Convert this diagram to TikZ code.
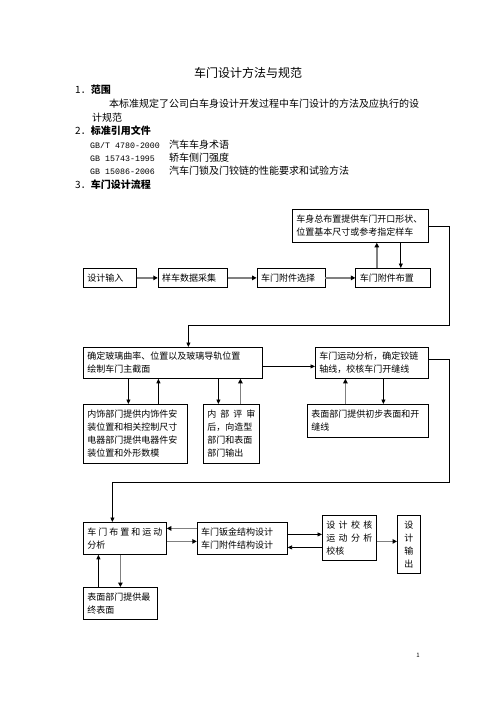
\documentclass[tikz,border=0pt]{standalone}
\usepackage{fontspec}
\setmainfont{Noto Sans CJK SC}
\setmonofont{Liberation Mono}
\usepackage{tikz}
\usetikzlibrary{arrows.meta, positioning, calc}
\usepackage{xcolor}

\begin{document}
\begin{tikzpicture}[
    x=1pt, y=-1pt,
    box/.style={rectangle, draw, line width=0.8pt, inner xsep=4pt, inner ysep=0pt, align=left, font=\fontsize{9}{13}\selectfont},
    txt/.style={inner sep=0pt, anchor=west, font=\fontsize{10}{12}\selectfont},
    arr/.style={-{Triangle[length=4.5pt, width=4pt]}, line width=0.8pt},
    garr/.style={-{Triangle[length=4.5pt, width=4.5pt, color=black]}, line width=1.8pt, draw=gray}
]
\useasboundingbox (0,0) rectangle (496,702);

% header text
\node[inner sep=0pt, font=\fontsize{12}{14}\selectfont] (title) at (248,73) {车门设计方法与规范};
\node[txt] (h1) at (75,90) {1．\textbf{范围}};
\node[txt] (p1) at (109,104) {本标准规定了公司白车身设计开发过程中车门设计的方法及应执行的设};
\node[txt] (p2) at (92,118) {计规范};
\node[txt] (h2) at (75,131) {2．\textbf{标准引用文件}};
\node[txt] (gb1) at (90,145) {\makebox[79pt][l]{\ttfamily\fontsize{8.3}{10}\selectfont GB/T 4780-2000}汽车车身术语};
\node[txt] (gb2) at (90,158) {\makebox[79pt][l]{\ttfamily\fontsize{8.3}{10}\selectfont GB 15743-1995}轿车侧门强度};
\node[txt] (gb3) at (90,171) {\makebox[79pt][l]{\ttfamily\fontsize{8.3}{10}\selectfont GB 15086-2006}汽车门锁及门铰链的性能要求和试验方法};
\node[txt] (h3) at (75,185) {3．\textbf{车门设计流程}};

% first row
\node[box, anchor=north west, text width=128pt, minimum height=33pt] (top) at (292,209) {车身总布置提供车门开口形状、\\位置基本尺寸或参考指定样车};
\node[box, anchor=north west, text width=45pt, minimum height=19pt] (input) at (83,268) {设计输入};
\node[box, right=21pt of input, text width=61pt, minimum height=19pt] (sample) {样车数据采集};
\node[box, right=29pt of sample, text width=60pt, minimum height=19pt] (select) {车门附件选择};
\node[box, right=30pt of select, text width=67pt, minimum height=19pt] (layout) {车门附件布置};

% second row
\node[box, anchor=north west, text width=171pt, minimum height=31pt] (glass) at (83,347) {确定玻璃曲率、位置以及玻璃导轨位置\\绘制车门主截面};
\node[box, anchor=north west, text width=105pt, minimum height=31pt] (motion) at (315,347) {车门运动分析，确定铰链\\轴线，校核车门开缝线};
\node[box, anchor=north west, text width=96pt, minimum height=59pt] (trim) at (83,404) {内饰部门提供内饰件安\\装位置和相关控制尺寸\\电器部门提供电器件安\\装位置和外形数模};
\node[box, anchor=north west, text width=48pt, minimum height=59pt] (review) at (203,404) {内\hfill 部\hfill 评\hfill 审\\后，向造型\\部门和表面\\部门输出};
\node[box, anchor=north west, text width=113pt, minimum height=33pt] (surface) at (307,404) {表面部门提供初步表面和开\\缝线};

% third row
\node[box, anchor=north west, text width=75pt, minimum height=32pt] (arrange) at (83,522) {车\hfill 门\hfill 布\hfill 置\hfill 和\hfill 运\hfill 动\\分析};
\node[box, right=30pt of arrange, text width=82pt, minimum height=32pt] (sheet) {车门钣金结构设计\\车门附件结构设计};
\node[box, anchor=north west, text width=46pt, minimum height=45pt] (check) at (322,515) {设\hfill 计\hfill 校\hfill 核\\运\hfill 动\hfill 分\hfill 析\\校核};
\node[box, anchor=north west, text width=15pt, minimum height=58pt, align=center] (output) at (397,515) {设\\计\\输\\出};
\node[box, anchor=north west, text width=66pt, minimum height=32pt] (final) at (83,587) {表面部门提供最\\终表面};

\node[inner sep=0pt, font=\fontsize{6}{7}\selectfont] (page) at (418,655) {1};

% connectors, first row
\draw[garr] (input) -- (sample);
\draw[garr] (sample) -- (select);
\draw[garr] (select) -- (layout);
\draw[garr] ([xshift=-16.5pt]layout.north) -- ([xshift=-16.5pt]layout.north |- top.south);
\draw[arr] ([xshift=7.5pt]layout.north |- top.south) -- ([xshift=7.5pt]layout.north);
\coordinate (r1) at (449,325);
\draw[arr] (top.east) -| (r1) -| ([xshift=15.5pt]glass.north);

% connectors, second row
\draw[arr] ([yshift=-3.5pt]glass.east) -- ([yshift=-3.5pt]glass.east -| motion.west);
\draw[arr] ([xshift=-7pt]trim.north |- glass.south) -- ([xshift=-7pt]trim.north);
\draw[arr] ([xshift=23pt]trim.north) -- ([xshift=23pt]trim.north |- glass.south);
\draw[arr] ([xshift=-13pt]review.north |- glass.south) -- ([xshift=-13pt]review.north);
\draw[garr] ([xshift=9pt]review.north) -- ([xshift=9pt]review.north |- glass.south);
\draw[garr] ([xshift=-22.5pt]surface.north) -- ([xshift=-22.5pt]surface.north |- motion.south);
\draw[arr] ([xshift=15.5pt]surface.north |- motion.south) -- ([xshift=15.5pt]surface.north);
\coordinate (r2) at (449,482);
\draw[arr] ([yshift=3.5pt]motion.east) -| (r2) -| ([xshift=-12.5pt]arrange.north);

% connectors, third row
\draw[garr] ([yshift=10pt]sheet.west) -- ([yshift=10pt]sheet.west -| arrange.east);
\draw[garr] ([yshift=-3pt]arrange.east) -- ([yshift=-3pt]arrange.east -| sheet.west);
\draw[arr] ([yshift=3.5pt]check.west -| sheet.east) -- ([yshift=3.5pt]check.west);
\draw[arr] ([yshift=-9.5pt]check.west) -- ([yshift=-9.5pt]check.west -| sheet.east);
\draw[garr] ([yshift=-3.5pt]check.east) -- ([yshift=-3.5pt]check.east -| output.west);
\draw[arr] ([xshift=-22pt]final.north) -- ([xshift=-22pt]final.north |- arrange.south);
\draw[garr] (final.north |- arrange.south) -- (final.north);

\end{tikzpicture}
\end{document}
